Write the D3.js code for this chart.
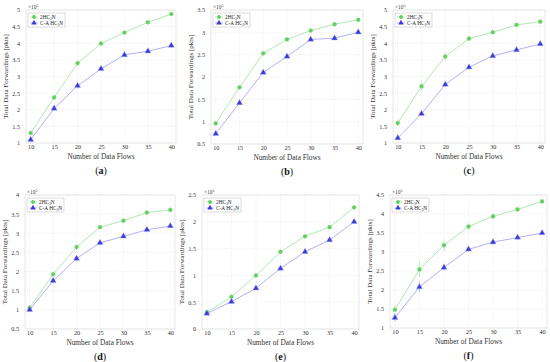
<!DOCTYPE html>
<html>
<head>
<meta charset="utf-8">
<script src="https://cdn.jsdelivr.net/npm/d3@7"></script>
<style>
body { margin:0; background:#fff; }
svg { font-family: "Liberation Serif", "DejaVu Serif", serif; }
</style>
</head>
<body>
<div id="chart"></div>
<script>
"use strict"

// data (values x 10^5)
var flows = [10, 15, 20, 25, 30, 35, 40];
var panelNames = ["a", "b", "c", "d", "e", "f"];

var green_a = [1.30, 2.37, 3.40, 3.99, 4.32, 4.63, 4.88];
var blue_a  = [1.10, 2.04, 2.72, 3.23, 3.65, 3.76, 3.93];
var green_b = [0.96, 1.77, 2.53, 2.84, 3.04, 3.18, 3.28];
var blue_b  = [0.73, 1.42, 2.10, 2.46, 2.84, 2.87, 3.00];
var green_c = [1.60, 2.70, 3.60, 4.14, 4.33, 4.55, 4.65];
var blue_c  = [1.15, 1.88, 2.76, 3.28, 3.62, 3.80, 3.98];
var green_d = [1.05, 1.93, 2.64, 3.16, 3.33, 3.54, 3.61];
var blue_d  = [1.00, 1.76, 2.34, 2.75, 2.92, 3.09, 3.19];
var green_e = [0.31, 0.60, 1.00, 1.44, 1.73, 1.90, 2.27];
var blue_e  = [0.29, 0.51, 0.76, 1.13, 1.44, 1.66, 2.00];
var green_f = [1.48, 2.54, 3.18, 3.67, 3.94, 4.12, 4.33];
var blue_f  = [1.27, 2.08, 2.59, 3.07, 3.26, 3.38, 3.50];

// error bar half-widths
var gerr_a = [0.05, 0.06, 0.06, 0.05, 0.04, 0.03, 0.03];
var berr_a = [0.05, 0.07, 0.07, 0.05, 0.04, 0.03, 0.03];
var gerr_b = [0.03, 0.04, 0.04, 0.03, 0.03, 0.02, 0.02];
var berr_b = [0.03, 0.04, 0.04, 0.03, 0.03, 0.02, 0.02];
var gerr_c = [0.10, 0.15, 0.12, 0.07, 0.05, 0.04, 0.04];
var berr_c = [0.05, 0.05, 0.06, 0.05, 0.04, 0.03, 0.03];
var gerr_d = [0.06, 0.07, 0.07, 0.04, 0.04, 0.03, 0.03];
var berr_d = [0.06, 0.07, 0.07, 0.04, 0.04, 0.03, 0.03];
var gerr_e = [0.02, 0.03, 0.03, 0.03, 0.03, 0.03, 0.03];
var berr_e = [0.02, 0.02, 0.03, 0.04, 0.04, 0.03, 0.03];
var gerr_f = [0.12, 0.20, 0.15, 0.10, 0.08, 0.06, 0.06];
var berr_f = [0.10, 0.15, 0.10, 0.06, 0.05, 0.04, 0.04];

var yDomains = [[1, 5], [0.5, 3.5], [1, 5], [0.5, 4], [0, 2.5], [1, 4.5]];
var legendLabels = ["2HC", "C-A HC"];

var greens = [green_a, green_b, green_c, green_d, green_e, green_f];
var blues = [blue_a, blue_b, blue_c, blue_d, blue_e, blue_f];
var gerrs = [gerr_a, gerr_b, gerr_c, gerr_d, gerr_e, gerr_f];
var berrs = [berr_a, berr_b, berr_c, berr_d, berr_e, berr_f];

// layout of each plot box
var boxes = [
	{l:26, r:176, t:10, b:143},
	{l:211, r:363, t:10, b:144},
	{l:393, r:545, t:10, b:143},
	{l:25, r:175, t:195, b:329},
	{l:202, r:359, t:195, b:329},
	{l:390, r:547, t:195, b:328}
];

var gCol = "#5fcf5f", gLine = "#a8e4a8";
var bCol = "#3a3ad8", bLine = "#a8a8f4";

var svg = d3.select("#chart").append("svg")
	.attr("width", 550)
	.attr("height", 362);

var fmt = function(v) { return String(+v.toFixed(1)); };

for (var i = 0; i < 6; i++) {
	var bx = boxes[i];
	var g = svg.append("g");

	var x = d3.scaleLinear().domain([9, 41]).range([bx.l, bx.r]);
	var y = d3.scaleLinear().domain(yDomains[i]).range([bx.b, bx.t]);
	var yt = d3.range(yDomains[i][0], yDomains[i][1] + 0.01, 0.5);

	// grid
	g.append("g").selectAll("line").data(flows).enter().append("line")
		.attr("x1", function(d) { return x(d); }).attr("x2", function(d) { return x(d); })
		.attr("y1", bx.t).attr("y2", bx.b)
		.attr("stroke", "#e4e4e4").attr("stroke-width", 0.5).attr("stroke-dasharray", "1,1");
	g.append("g").selectAll("line").data(yt).enter().append("line")
		.attr("x1", bx.l).attr("x2", bx.r)
		.attr("y1", function(d) { return y(d); }).attr("y2", function(d) { return y(d); })
		.attr("stroke", "#e4e4e4").attr("stroke-width", 0.5).attr("stroke-dasharray", "1,1");

	// axes
	var xa = g.append("g").attr("transform", "translate(0," + bx.b + ")")
		.call(d3.axisBottom(x).tickValues(flows).tickSize(0).tickPadding(2));
	var ya = g.append("g").attr("transform", "translate(" + bx.l + ",0)")
		.call(d3.axisLeft(y).tickValues(yt).tickFormat(fmt).tickSize(0).tickPadding(6));
	[xa, ya].forEach(function(a) {
		a.select(".domain").remove();
		a.selectAll("text").attr("font-size", 6.2).attr("fill", "#333")
			.attr("font-family", "Liberation Serif, serif");
	});

	// frame
	g.append("rect").attr("x", bx.l).attr("y", bx.t)
		.attr("width", bx.r - bx.l).attr("height", bx.b - bx.t)
		.attr("fill", "none").attr("stroke", "#d8d8d8").attr("stroke-width", 0.6);

	// exponent
	var ex = g.append("text").attr("x", bx.l + 2).attr("y", bx.t - 1)
		.attr("font-size", 5.5).attr("fill", "#444").text("\u00d710");
	ex.append("tspan").attr("dy", -2).attr("font-size", 4).text("5");

	// series
	var series = [
		{v: greens[i], e: gerrs[i], c: gCol, lc: gLine, sym: d3.symbolCircle, s: 14},
		{v: blues[i], e: berrs[i], c: bCol, lc: bLine, sym: d3.symbolTriangle, s: 16}
	];
	series.forEach(function(s) {
		var line = d3.line().x(function(d, k) { return x(flows[k]); })
			.y(function(d) { return y(d); });
		g.append("path").datum(s.v).attr("d", line)
			.attr("fill", "none").attr("stroke", s.lc).attr("stroke-width", 0.9);
		g.append("g").selectAll("line").data(s.v).enter().append("line")
			.attr("x1", function(d, k) { return x(flows[k]); })
			.attr("x2", function(d, k) { return x(flows[k]); })
			.attr("y1", function(d, k) { return y(d - s.e[k]); })
			.attr("y2", function(d, k) { return y(d + s.e[k]); })
			.attr("stroke", s.lc).attr("stroke-width", 0.7);
		g.append("g").selectAll("path").data(s.v).enter().append("path")
			.attr("d", d3.symbol().type(s.sym).size(s.s))
			.attr("transform", function(d, k) { return "translate(" + x(flows[k]) + "," + y(d) + ")"; })
			.attr("fill", s.c).attr("stroke", s.lc).attr("stroke-width", 0.4);
	});

	// legend
	var lg = g.append("g").attr("transform", "translate(" + (bx.l + 2) + "," + (bx.t + 3) + ")");
	lg.append("rect").attr("width", 37).attr("height", 14)
		.attr("fill", "#fff").attr("stroke", "#bbb").attr("stroke-width", 0.5);
	series.forEach(function(s, k) {
		var yy = 4 + k * 6;
		lg.append("line").attr("x1", 2).attr("x2", 10).attr("y1", yy).attr("y2", yy)
			.attr("stroke", s.lc).attr("stroke-width", 0.8);
		lg.append("path").attr("d", d3.symbol().type(s.sym).size(s.s * 0.8))
			.attr("transform", "translate(6," + yy + ")").attr("fill", s.c);
		var t = lg.append("text").attr("x", 12).attr("y", yy + 1.8)
			.attr("font-size", 5.3).attr("fill", "#222").text(legendLabels[k]);
		t.append("tspan").attr("dy", 1).attr("font-size", 3.6).text("3");
		t.append("tspan").attr("dy", -1).text("N");
	});

	// axis titles
	var cx = (x(10) + x(40)) / 2;
	g.append("text").attr("x", cx).attr("y", bx.b + 16)
		.attr("text-anchor", "middle").attr("font-size", 7.3).attr("fill", "#333")
		.text("Number of Data Flows");
	g.append("text")
		.attr("transform", "translate(" + (bx.l - 18) + "," + ((bx.t + bx.b) / 2) + ") rotate(-90)")
		.attr("text-anchor", "middle").attr("font-size", 7).attr("fill", "#333")
		.text("Total Data Forwardings [pkts]");

	// panel label
	var pl = g.append("text").attr("x", cx).attr("y", bx.b + 31)
		.attr("text-anchor", "middle").attr("font-size", 10).attr("fill", "#111");
	pl.append("tspan").text("(");
	pl.append("tspan").attr("font-weight", "bold").text(panelNames[i]);
	pl.append("tspan").text(")");
}
</script>
</body>
</html>
